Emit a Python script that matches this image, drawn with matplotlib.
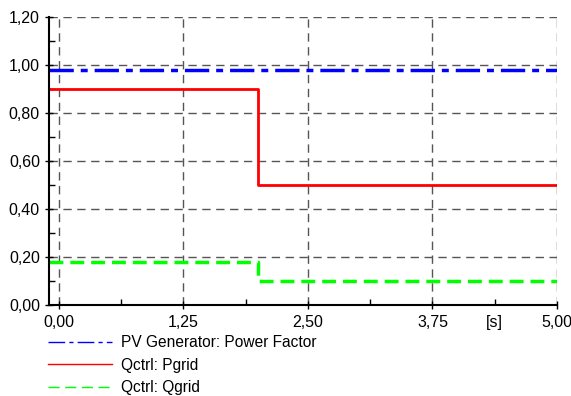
import numpy as np
import matplotlib.pyplot as plt
from matplotlib.lines import Line2D
from matplotlib.ticker import MultipleLocator, FuncFormatter

plt.rcParams['font.family'] = ['Liberation Sans', 'DejaVu Sans']

# data
t = [-0.1, 2.0, 5.0]
power_factor = [0.98, 0.98, 0.98]
pgrid = [0.90, 0.50, 0.50]
qgrid = [0.18, 0.10, 0.10]
labels = ["PV Generator: Power Factor", "Qctrl: Pgrid", "Qctrl: Qgrid"]

fig = plt.figure(figsize=(5.71, 3.96), dpi=100)
ax = fig.add_axes([0.0858, 0.2298, 0.8897, 0.7272])

ax.step(t, power_factor, where='post', color='#0000ff', lw=2.5, dashes=(7, 2, 2, 2))
ax.step(t, pgrid, where='post', color='#ff0000', lw=2)
ax.step(t, qgrid, where='post', color='#00ff00', lw=2.5, dashes=(4, 2))

ax.set_xlim(-0.1, 5.0)
ax.set_ylim(0, 1.2)
ax.xaxis.set_major_locator(MultipleLocator(1.25))
ax.xaxis.set_minor_locator(MultipleLocator(0.625))
ax.yaxis.set_major_locator(MultipleLocator(0.2))
ax.yaxis.set_minor_locator(MultipleLocator(0.1))
fmt = FuncFormatter(lambda v, p: f"{v:.2f}".replace('.', ','))
ax.xaxis.set_major_formatter(fmt)
ax.yaxis.set_major_formatter(fmt)
ax.grid(True, which='major', color='#555555', lw=1, dashes=(6, 4))
ax.tick_params(which='major', direction='inout', length=6, width=1, labelsize=11.5, colors='black')
ax.tick_params(which='minor', direction='in', length=4, width=1)
ax.tick_params(axis='x', pad=4)

for s in ['top', 'right']:
    ax.spines[s].set_visible(False)
ax.spines['left'].set_linewidth(1.5)
ax.spines['bottom'].set_linewidth(1.5)

ax.text(4.37, -0.075, "[s]", ha='center', va='center', fontsize=11.5)

handles = [
    Line2D([], [], color='#0000ff', lw=1, dashes=(12, 3, 3, 3)),
    Line2D([], [], color='#ff0000', lw=1),
    Line2D([], [], color='#00ff00', lw=1, dashes=(8, 4)),
]
fig.legend(handles, labels, loc='upper left', bbox_to_anchor=(0.084, 0.153),
           frameon=False, fontsize=11.2, handlelength=4.1, handletextpad=0.58,
           labelspacing=0.47, borderaxespad=0, borderpad=0)

fig.savefig("out.png", dpi=100)
